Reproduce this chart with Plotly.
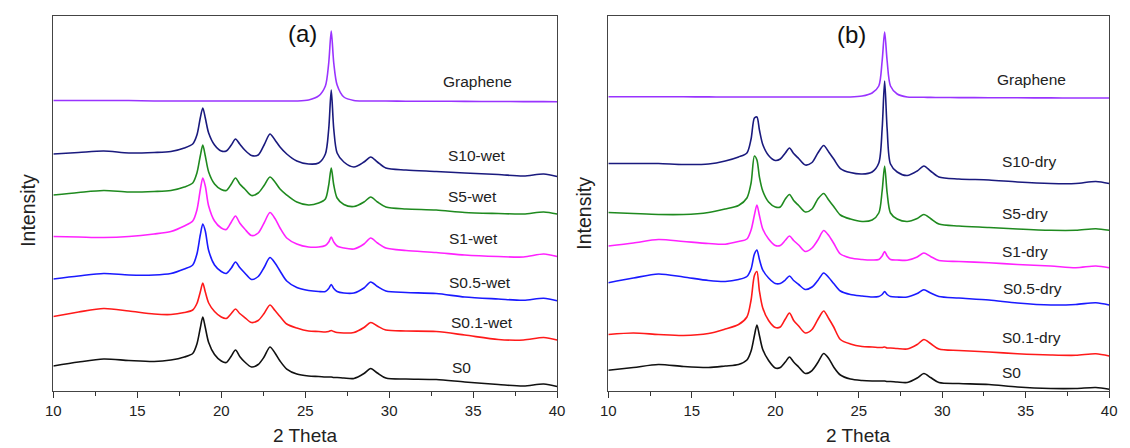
import plotly.graph_objects as go

# 2-theta sample positions (degrees)
two_theta = [10, 11.5, 13, 14.5, 16, 17,
             17.8, 18.3, 18.55, 18.75, 18.9, 19.05, 19.25, 19.6,
             20.0, 20.3, 20.6, 20.85, 21.1, 21.4, 21.8,
             22.2, 22.55, 22.9, 23.2, 23.5, 23.9, 24.5,
             25.2, 25.8, 26.2, 26.4, 26.55, 26.7, 26.9, 27.3,
             27.9, 28.5, 28.9, 29.3, 29.8,
             31, 32.8, 34.5, 36.5, 38, 39.2, 40]

# ---- panel (a): wet samples (stacked intensity, a.u.) ----
graphene_a = [290.5, 290.5, 290.5, 290.5, 290, 290,
              290, 290, 290, 290, 290, 290, 290, 290,
              290, 290, 290, 290, 290, 290, 290,
              290, 290, 290, 290, 290, 290, 290,
              291, 295, 305, 328, 360, 328, 306, 294,
              290.5, 290, 290, 290, 290,
              289.8, 289.8, 289.6, 289.5, 289.4, 289.4, 289.3]
s10_wet = [237, 238.5, 240, 238, 238.5, 239.5,
           243, 247, 256, 273, 283, 273, 258, 246,
           240, 240, 246, 252, 247, 241, 235.5,
           236, 246, 257, 251, 244, 237, 230,
           227, 228, 237, 262, 301, 262, 238, 229,
           224, 229, 234, 229, 223,
           221, 219.5, 218, 216.5, 215, 217, 214.5]
s5_wet = [196, 198.5, 200.5, 199, 199.5, 200.5,
          204, 208, 218, 235, 246, 235, 219, 207,
          201.5, 200.5, 207, 213, 207, 202, 195.5,
          198, 205.5, 214, 209, 202, 196, 189,
          186, 188, 192, 206, 223, 206, 193, 186.5,
          184.5, 189, 194, 189, 184,
          182, 181, 178.5, 177.5, 177, 179, 177]
s1_wet = [154.5, 154, 153.5, 154.5, 157, 159.5,
          165, 170, 181, 201, 213, 205, 185, 170,
          163, 161.5, 169, 175, 168, 162, 155.5,
          158, 168, 178.5, 172.5, 163, 153, 147,
          144, 144, 145.5, 149, 154, 149, 145, 143,
          142, 147, 153, 148, 143,
          140.5, 138.5, 136, 134.5, 134, 137, 134.5]
s05_wet = [112, 115, 117.5, 116, 116, 117.5,
           122, 126, 137, 156, 167, 160, 140.5, 126,
           119.5, 117.5, 123, 129, 123.5, 118, 111.5,
           114.5, 123.5, 133.5, 128, 120, 110, 103.5,
           100.5, 99.5, 99.5, 102.5, 106.5, 102.5, 99.5, 98,
           98, 103, 109, 104.5, 100,
           98.5, 97.5, 94, 92, 90.7, 92.7, 90.3]
s01_wet = [74.5, 79, 82.5, 80, 77, 76.5,
           78.5, 81, 87.5, 99, 108, 99, 88, 79.5,
           74, 72.5, 77.5, 82, 77.5, 73.5, 68.5,
           70.5, 77.5, 86, 80.5, 74.5, 67, 63,
           60, 59.5, 59, 59.5, 60.5, 59.5, 58.5, 58,
           58.5, 63.5, 68.5, 65, 61,
           60, 59.5, 56, 51.5, 51, 53.5, 51]
s0_a = [25, 29, 32, 30.5, 29.5, 31,
        34, 37.5, 47, 63, 74, 63.5, 48.5, 36.5,
        30, 28.5, 35, 41, 34.5, 29, 24,
        26.5, 34, 44, 38, 30, 22, 17,
        15, 14.5, 14, 14, 14, 13.5, 13.5, 13,
        12.5, 17.5, 22.5, 18, 13,
        12, 11.5, 9, 6.5, 5, 7, 4.5]

# ---- panel (b): dry samples ----
graphene_b = [294.3, 294.3, 294.2, 294.2, 294.1, 294,
              294, 294, 294, 294, 294, 294, 294, 294,
              294, 294, 294, 294, 294, 294, 294,
              294, 294, 294, 294, 294, 294, 294,
              295, 298, 305, 330, 359, 330, 305, 297,
              294, 293.8, 293.7, 293.6, 293.5,
              293.4, 293.3, 293.2, 293.1, 293, 293, 293]
s10_dry = [227.5, 227.5, 227.5, 226.5, 227, 230,
           234, 238, 252, 273, 274, 261, 246.5, 235.5,
           230.5, 232, 238, 243, 237.5, 232.5, 226,
           228.5, 238, 245.5, 239, 232, 222.5, 218.5,
           217, 219, 228, 262, 310, 262, 227, 219,
           215.5, 220, 225, 220, 214,
           212, 211, 209, 207.5, 207.5, 209.5, 207.5]
s5_dry = [178.5, 177.5, 176.5, 176.5, 178.5, 182,
          185.5, 193, 208, 235, 231, 214, 200, 189,
          184, 184, 192, 196.5, 190.5, 185.5, 179,
          182, 192, 197.5, 191, 184.5, 176, 172,
          169.5, 171, 178, 200, 225, 198, 178, 172,
          169.5, 172.5, 176.5, 172.5, 167,
          165, 163.5, 162, 160.7, 160.7, 162.3, 160.7]
s1_dry = [145, 148, 151.5, 149.5, 147.5, 146.8,
          149.5, 152, 161, 176, 186, 175.5, 162, 152,
          145.5, 145.5, 150.7, 155, 150.5, 146, 139.5,
          143, 151, 160.5, 155.5, 147.8, 137, 133,
          131.5, 131, 131.5, 135, 139.5, 135, 131.5, 131,
          130.7, 134, 138, 134.5, 130.5,
          129.5, 128.3, 126.5, 125, 123.3, 125, 123.3]
s05_dry = [108.3, 113, 117, 114, 110.5, 109.5,
           111.5, 114.5, 122, 137, 141, 131.5, 121, 113,
           107.5, 107.5, 111, 115, 110.5, 106.5, 101.5,
           104, 110.5, 118, 113.5, 107.5, 100, 96.5,
           95, 94, 94.5, 96.5, 99.5, 96.5, 94.5, 94,
           94, 97.5, 101.3, 98, 94.5,
           93, 91, 88, 86, 86.5, 88.3, 86]
s01_dry = [56.5, 58, 56.5, 55.5, 57.5, 62,
           66.5, 74, 91, 115.5, 119.5, 100, 83, 70.5,
           63.5, 64, 72, 78, 70.6, 65, 58,
           61.5, 71.5, 80, 72.5, 64, 51.5, 47,
           44.5, 44, 43.5, 43.5, 44, 43, 43, 42.5,
           42, 46.5, 51.5, 47.5, 42,
           40.5, 39, 37.3, 36, 35.7, 37.3, 35]
s0_b = [20.7, 23.5, 26.5, 24.5, 23.5, 25,
        26.5, 31, 40, 55.5, 66, 55.5, 41.5, 30.5,
        23, 23.5, 29, 34, 29, 24, 17.5,
        20.5, 28.5, 37.5, 32.5, 24, 16, 12,
        10.5, 10, 10, 10, 10, 9.5, 9.5, 9,
        8.5, 13, 17.5, 13.5, 8.5,
        7.5, 6.5, 4, 2.5, 2.5, 3.5, 1.7]

x_ticks = [10, 15, 20, 25, 30, 35, 40]

names_a = ["Graphene", "S10-wet", "S5-wet", "S1-wet", "S0.5-wet", "S0.1-wet", "S0"]
names_b = ["Graphene", "S10-dry", "S5-dry", "S1-dry", "S0.5-dry", "S0.1-dry", "S0"]
series_a = [graphene_a, s10_wet, s5_wet, s1_wet, s05_wet, s01_wet, s0_a]
series_b = [graphene_b, s10_dry, s5_dry, s1_dry, s05_dry, s01_dry, s0_b]
colors = ["#9933ff", "#1a1a7e", "#1f8a1f", "#ff22ff", "#1a1aff", "#ff1a1a", "#111111"]

# label anchor positions (2theta, intensity)
lab_a = [(33.1, 309), (33.4, 236), (33.4, 195), (33.45, 153), (33.45, 109), (33.55, 69), (33.6, 24)]
lab_b = [(33.15, 311.5), (33.45, 229.5), (33.45, 177.5), (33.45, 139.5), (33.5, 102.5), (33.45, 53.5), (33.45, 18.5)]

for s in series_a + series_b:
    assert len(s) == len(two_theta)

fig = go.Figure()
for name, ys, c in zip(names_a, series_a, colors):
    fig.add_trace(go.Scatter(x=two_theta, y=ys, mode="lines", name=name,
                             line=dict(color=c, width=1.6, shape="spline", smoothing=0.8),
                             xaxis="x", yaxis="y"))
for name, ys, c in zip(names_b, series_b, colors):
    fig.add_trace(go.Scatter(x=two_theta, y=ys, mode="lines", name=name,
                             line=dict(color=c, width=1.6, shape="spline", smoothing=0.8),
                             xaxis="x2", yaxis="y2"))

font_family = "Liberation Sans, Arial, sans-serif"
ann = []
for (xv, yv), t in zip(lab_a, names_a):
    ann.append(dict(x=xv, y=yv, xref="x", yref="y", text=t, showarrow=False,
                    xanchor="left", yanchor="middle", font=dict(size=15.5, color="#222")))
for (xv, yv), t in zip(lab_b, names_b):
    ann.append(dict(x=xv, y=yv, xref="x2", yref="y2", text=t, showarrow=False,
                    xanchor="left", yanchor="middle", font=dict(size=15.5, color="#222")))
ann.append(dict(x=24.83, y=357, xref="x", yref="y", text="(a)", showarrow=False,
                xanchor="center", yanchor="middle", font=dict(size=24, color="#111")))
ann.append(dict(x=24.57, y=356, xref="x2", yref="y2", text="(b)", showarrow=False,
                xanchor="center", yanchor="middle", font=dict(size=24, color="#111")))
for xc in [0.2668, 0.7637]:
    ann.append(dict(x=xc, y=0.028, xref="paper", yref="paper", text="2 Theta", showarrow=False,
                    xanchor="center", yanchor="middle", font=dict(size=19, color="#222")))
for xc, yc in [(0.0177, 0.531), (0.517, 0.525)]:
    ann.append(dict(x=xc, y=yc, xref="paper", yref="paper", text="Intensity", showarrow=False,
                    textangle=-90, xanchor="center", yanchor="middle", font=dict(size=19.5, color="#222")))

xa = dict(range=[10, 40], tickmode="array", tickvals=x_ticks, ticks="outside", ticklen=6,
          tickwidth=1, tickcolor="#333", showline=True, linecolor="#444", linewidth=1.2,
          mirror=True, showgrid=False, zeroline=False, tickfont=dict(size=15, color="#222"),
          minor=dict(dtick=2.5, tick0=10, ticks="outside", ticklen=3.5, tickcolor="#333", showgrid=False))
ya = dict(range=[0, 375], showticklabels=False, ticks="", showline=True, linecolor="#444",
          linewidth=1.2, mirror=True, showgrid=False, zeroline=False)

fig.update_layout(
    width=1130, height=448, margin=dict(l=0, r=0, t=0, b=0),
    paper_bgcolor="white", plot_bgcolor="white", showlegend=False,
    font=dict(family=font_family),
    xaxis=dict(xa, domain=[0.0407, 0.4929], anchor="y"),
    yaxis=dict(ya, domain=[0.1272, 0.9643], anchor="x"),
    xaxis2=dict(xa, domain=[0.5389, 0.9885], anchor="y2"),
    yaxis2=dict(ya, domain=[0.1272, 0.9643], anchor="x2"),
    annotations=ann,
)

fig.write_html("out.html",
               config={"displayModeBar": False, "staticPlot": True},
               post_script="document.body.style.margin='0px';document.body.style.overflow='hidden';")
